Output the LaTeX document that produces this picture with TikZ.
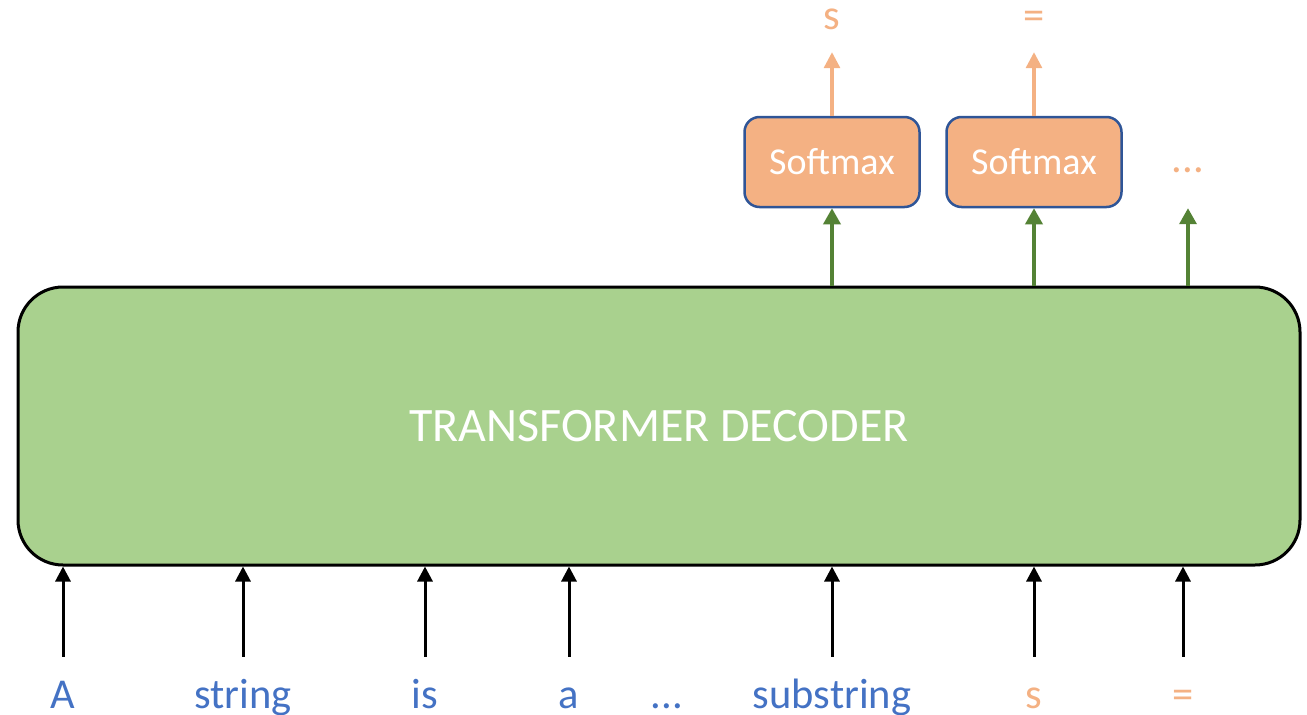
\documentclass[tikz,border=0pt]{standalone}
\usepackage{fontspec}
\setmainfont{Carlito}
\usetikzlibrary{arrows.meta}
\definecolor{decfill}{HTML}{A9D18E}
\definecolor{smfill}{HTML}{F4B183}
\definecolor{smedge}{HTML}{2F5597}
\definecolor{arrgreen}{HTML}{548235}
\definecolor{wordblue}{HTML}{4472C4}
\definecolor{wordorange}{HTML}{F4B183}
\tikzset{
  decoder/.style={draw=black, line width=3pt, fill=decfill, rounded corners=45pt,
    minimum width=1282pt, minimum height=278pt, inner sep=0pt, text=white,
    font=\fontsize{48}{54}\selectfont},
  smbox/.style={draw=smedge, line width=2.5pt, fill=smfill, rounded corners=15pt,
    minimum width=175pt, minimum height=90pt, inner sep=0pt, text=white,
    font=\fontsize{38}{42}\selectfont},
  inword/.style={anchor=base, inner sep=0pt, text height=51pt, text depth=12pt,
    font=\fontsize{42.5}{46}\selectfont},
  outword/.style={anchor=base, inner sep=0pt, text depth=23pt, text=wordorange,
    font=\fontsize{42.5}{46}\selectfont},
  inarrow/.style={draw=black, line width=3pt, -{Triangle[length=15pt,width=15pt]}},
  midarrow/.style={draw=arrgreen, line width=3.5pt, -{Triangle[length=16pt,width=17pt]}},
  outarrow/.style={draw=smfill, line width=3.2pt, -{Triangle[length=16pt,width=16pt]}},
}
\begin{document}
\begin{tikzpicture}[x=1pt, y=-1pt]
  \useasboundingbox (0,0) rectangle (1307,715);
  \clip (0,0) rectangle (1307,715);

  % decoder block
  \node[decoder] (dec) at (659,426) {TRANSFORMER DECODER};

  % softmax heads
  \node[smbox] (sm1) at (832,162) {Softmax};
  \node[smbox] (sm2) at (1034,162) {Softmax};
  \node[anchor=base, inner sep=0pt, text depth=36pt, text=wordorange,
        font=\fontsize{42.5}{46}\selectfont] (more) at (1188,172) {...};

  % predicted tokens
  \node[outword] (o1) at (832,29) {s};
  \node[outword] (o2) at (1034,29) {=};

  % input tokens
  \node[inword, text=wordblue] (w1) at (63,708) {A};
  \node[inword, text=wordblue] (w2) at (243,708) {string};
  \node[inword, text=wordblue] (w3) at (425,708) {is};
  \node[inword, text=wordblue] (w4) at (569,708) {a};
  \node[anchor=base, inner sep=0pt, text=wordblue,
        font=\fontsize{42.5}{46}\selectfont] (w5) at (667,708) {...};
  \node[inword, text=wordblue] (w6) at (832,708) {substring};
  \node[inword, text=wordorange] (w7) at (1034,708) {s};
  \node[inword, text=wordorange] (w8) at (1183,708) {=};

  % inputs into the decoder
  \foreach \w in {w1,w2,w3,w4,w6,w7,w8}
    \draw[inarrow] (\w.north) -- (\w.north |- dec.south);

  % decoder outputs into the heads
  \draw[midarrow] (sm1.south |- dec.north) -- (sm1.south);
  \draw[midarrow] (sm2.south |- dec.north) -- (sm2.south);
  \draw[midarrow] (more.south |- dec.north) -- (more.south);

  % heads to predicted tokens
  \draw[outarrow] (sm1.north) -- (o1.south);
  \draw[outarrow] (sm2.north) -- (o2.south);
\end{tikzpicture}
\end{document}
